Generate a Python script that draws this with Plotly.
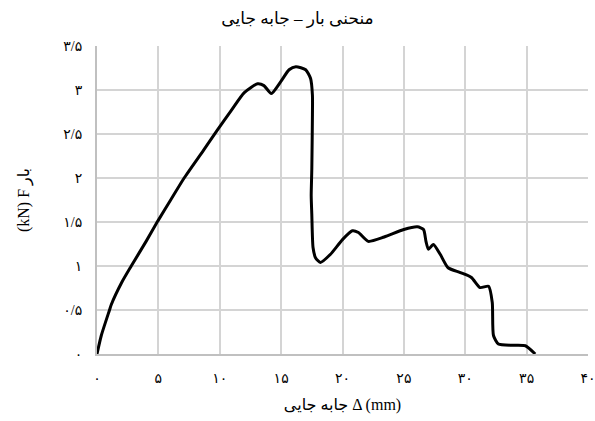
import plotly.graph_objects as go

# Load-displacement data (mm, kN)
displacement = [0, 0.35, 1.02, 1.16, 2.0, 2.79, 4.0, 4.95, 6.0, 7.1, 8.7, 9.83, 10.9, 12.0,
                13.08, 13.6, 14.2, 14.97, 15.65, 16.2, 17.0, 17.4, 17.55, 17.55, 17.5,
                17.45, 17.5, 17.6, 17.8, 18.2, 19.0, 20.0, 20.8, 21.3, 22.1, 23.4, 25.0,
                26.1, 26.6, 26.8, 27.0, 27.4, 27.97, 28.6, 29.6, 30.5, 31.2, 31.9, 32.2,
                32.3, 32.7, 33.9, 34.9, 35.7]
load = [0, 0.21, 0.5, 0.56, 0.81, 1.0, 1.28, 1.51, 1.75, 2.0, 2.32, 2.55, 2.76, 2.97,
        3.07, 3.05, 2.96, 3.095, 3.23, 3.265, 3.23, 3.13, 2.94, 2.72, 2.1,
        1.8, 1.585, 1.21, 1.095, 1.04, 1.13, 1.30, 1.40, 1.38, 1.28, 1.33, 1.415,
        1.445, 1.415, 1.28, 1.19, 1.245, 1.13, 0.98, 0.925, 0.87, 0.755, 0.77, 0.585,
        0.21, 0.113, 0.10, 0.094, 0.0]

x_tickvals = [0, 5, 10, 15, 20, 25, 30, 35, 40]
x_ticktext = ["۰", "۵", "۱۰", "۱۵", "۲۰", "۲۵", "۳۰", "۳۵", "۴۰"]
y_tickvals = [0, 0.5, 1, 1.5, 2, 2.5, 3, 3.5]
y_ticktext = ["۰", "۰/۵", "۱", "۱/۵", "۲", "۲/۵", "۳", "۳/۵"]

title_text = "منحنی بار – جابه جایی"
x_title = "جابه جایی Δ (mm)"
y_title = "(kN) F بار"

FONT = "Liberation Serif, Times New Roman, DejaVu Sans, serif"

fig = go.Figure()
fig.add_trace(go.Scatter(
    x=displacement, y=load, mode="lines",
    line=dict(color="#000000", width=3, shape="spline", smoothing=0.6),
    hoverinfo="skip", showlegend=False,
))

grid = "#d4d4d4"
fig.update_layout(
    width=595, height=421,
    margin=dict(l=97, r=7, t=46, b=67, autoexpand=False),
    paper_bgcolor="white", plot_bgcolor="white",
    font=dict(family=FONT, color="#000000", size=14),
    title=dict(text=title_text, x=0.5, xanchor="center", y=0.957, yanchor="middle",
               font=dict(family=FONT, size=17, color="#000000")),
    xaxis=dict(range=[0, 40], tickvals=x_tickvals, ticktext=x_ticktext,
               showgrid=True, gridcolor=grid, gridwidth=1.5,
               showline=True, linecolor="#c0c0c0", linewidth=2,
               zeroline=False, ticks="", ticklabelstandoff=10,
               ticklabeloverflow="allow", automargin=False,
               tickfont=dict(size=14),
               title=dict(text=x_title, standoff=14, font=dict(size=16))),
    yaxis=dict(range=[0, 3.5], tickvals=y_tickvals, ticktext=y_ticktext,
               showgrid=True, gridcolor=grid, gridwidth=1.5,
               showline=True, linecolor="#c0c0c0", linewidth=2,
               zeroline=False, ticks="", ticklabelstandoff=10, automargin=False,
               tickfont=dict(size=14),
               title=dict(text=y_title, standoff=30, font=dict(size=16))),
)

fig.write_html(
    "out.html",
    config={"displayModeBar": False},
    post_script="document.body.style.margin='0';document.body.style.overflow='hidden';",
)
